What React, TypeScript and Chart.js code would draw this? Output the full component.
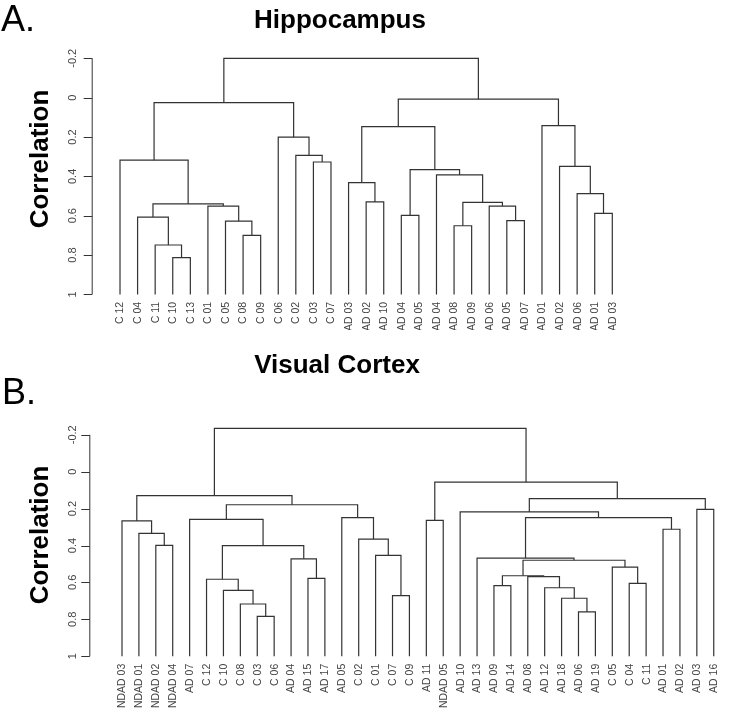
import React, { useEffect, useRef } from "react";
import { Chart, registerables } from "chart.js";

Chart.register(...registerables);

// ---------- Data ----------
// Leaf order (left to right) for each dendrogram
const hippoLeaves = [
  "C 12", "C 04", "C 11", "C 10", "C 13", "C 01", "C 05", "C 08", "C 09",
  "C 06", "C 02", "C 03", "C 07", "AD 03", "AD 02", "AD 10", "NDAD 04",
  "NDAD 05", "AD 04", "AD 08", "AD 09", "AD 06", "AD 05", "AD 07", "AD 01",
  "NDAD 02", "NDAD 06", "NDAD 01", "NDAD 03",
];
// merges: negative = leaf -(index+1), positive = earlier merge number (1-based)
const hippoMerges: number[][] = [
  [-4, -5], [-3, 1], [-2, 2], [-8, -9], [-7, 4], [-6, 5], [3, 6], [-1, 7],
  [-12, -13], [-11, 9], [-10, 10], [8, 11], [-15, -16], [-14, 13], [-17, -18],
  [-20, -21], [-23, -24], [-22, 17], [16, 18], [-19, 19], [15, 20], [14, 21],
  [-28, -29], [-27, 23], [-26, 24], [-25, 25], [22, 26], [12, 27],
];
const hippoHeights = [
  0.813, 0.749, 0.607, 0.7, 0.628, 0.551, 0.54, 0.318,
  0.327, 0.293, 0.201, 0.025, 0.53, 0.432, 0.598,
  0.651, 0.625, 0.551, 0.532, 0.393, 0.366, 0.147,
  0.588, 0.488, 0.349, 0.142, 0.008, -0.2,
];

const visualLeaves = [
  "NDAD 03", "NDAD 01", "NDAD 02", "NDAD 04", "AD 07", "C 12", "C 10", "C 08",
  "C 03", "C 06", "AD 04", "AD 15", "AD 17", "AD 05", "C 02", "C 01", "C 07",
  "C 09", "AD 11", "NDAD 05", "AD 10", "AD 13", "AD 09", "AD 14", "AD 08",
  "AD 12", "AD 18", "AD 06", "AD 19", "C 05", "C 04", "C 11", "AD 01", "AD 02",
  "AD 03", "AD 16",
];
const visualMerges: number[][] = [
  [-3, -4], [-2, 1], [-1, 2], [-9, -10], [-8, 4], [-7, 5], [-6, 6], [-12, -13],
  [-11, 8], [7, 9], [-5, 10], [-17, -18], [-16, 12], [-15, 13], [-14, 14],
  [11, 15], [3, 16], [-19, -20], [-28, -29], [-27, 19], [-26, 20], [-25, 21],
  [-23, -24], [23, 22], [-31, -32], [-30, 25], [24, 26], [-22, 27], [-33, -34],
  [28, 29], [-21, 30], [-35, -36], [31, 32], [18, 33], [17, 34],
];
const visualHeights = [
  0.399, 0.334, 0.267, 0.784, 0.717, 0.643, 0.583, 0.578,
  0.472, 0.401, 0.258, 0.672, 0.453, 0.365, 0.249,
  0.179, 0.13, 0.264, 0.76, 0.686, 0.629, 0.569,
  0.618, 0.564, 0.605, 0.517, 0.48, 0.468, 0.312,
  0.249, 0.218, 0.204, 0.146, 0.057, -0.235,
];

const yTickValues = [-0.2, 0, 0.2, 0.4, 0.6, 0.8, 1];
const yTickLabels = ["-0.2", "0", "0.2", "0.4", "0.6", "0.8", "1"];
const leafBase = 1;

// ---------- Helpers ----------
type Pt = { x: number; y: number };

function buildSegments(merges: number[][], heights: number[]): Pt[][] {
  const centers: number[] = [];
  const segs: Pt[][] = [];
  merges.forEach((m, k) => {
    const pos = (r: number): Pt =>
      r < 0 ? { x: -r - 1, y: leafBase } : { x: centers[r - 1], y: heights[r - 1] };
    const a = pos(m[0]);
    const b = pos(m[1]);
    const h = heights[k];
    centers.push((a.x + b.x) / 2);
    segs.push([
      { x: a.x, y: a.y },
      { x: a.x, y: h },
      { x: b.x, y: h },
      { x: b.x, y: b.y },
    ]);
  });
  return segs;
}

type PanelCfg = {
  letter: string;
  title: string;
  leaves: string[];
  merges: number[][];
  heights: number[];
  top: number;
  height: number;
  padding: { left: number; right: number; top: number; bottom: number };
  xMin: number;
  xMax: number;
  yMin: number;
  letterX: number;
  letterY: number;
  titleX: number;
  titleY: number;
  ylabX: number;
  ylabY: number;
  tickLabelX: number;
};

const LINE = "#333333";
const TXT = "#444444";
const FONT = "'Liberation Sans', Arial, Helvetica, sans-serif";

function Dendro({ cfg }: { cfg: PanelCfg }) {
  const ref = useRef<HTMLCanvasElement | null>(null);
  useEffect(() => {
    if (!ref.current) return;
    const segs = buildSegments(cfg.merges, cfg.heights);
    const decor = {
      id: "decor",
      afterDraw(chart: any) {
        const ctx = chart.ctx as CanvasRenderingContext2D;
        const xs = chart.scales.x;
        const ys = chart.scales.y;
        const left = chart.chartArea.left;
        ctx.save();
        // y axis line
        ctx.strokeStyle = LINE;
        ctx.lineWidth = 1;
        ctx.beginPath();
        const yT = ys.getPixelForValue(yTickValues[0]);
        const yB = ys.getPixelForValue(yTickValues[yTickValues.length - 1]);
        ctx.moveTo(left + 0.5, yT);
        ctx.lineTo(left + 0.5, yB);
        yTickValues.forEach((v) => {
          const p = Math.round(ys.getPixelForValue(v)) + 0.5;
          ctx.moveTo(left + 0.5, p);
          ctx.lineTo(left - 8, p);
        });
        ctx.stroke();
        // tick labels (rotated)
        ctx.fillStyle = TXT;
        ctx.font = `11px ${FONT}`;
        ctx.textAlign = "center";
        ctx.textBaseline = "alphabetic";
        yTickValues.forEach((v, i) => {
          const p = ys.getPixelForValue(v);
          ctx.save();
          ctx.translate(cfg.tickLabelX, p);
          ctx.rotate(-Math.PI / 2);
          ctx.fillText(yTickLabels[i], 0, 0);
          ctx.restore();
        });
        // leaf labels
        ctx.font = `10.5px ${FONT}`;
        ctx.textAlign = "right";
        ctx.textBaseline = "middle";
        const base = ys.getPixelForValue(leafBase) + 7.5;
        cfg.leaves.forEach((lab, i) => {
          const px = xs.getPixelForValue(i);
          ctx.save();
          ctx.translate(px + 0.5, base);
          ctx.rotate(-Math.PI / 2);
          ctx.fillText(lab, 0, 0);
          ctx.restore();
        });
        // y axis title
        ctx.fillStyle = "#000";
        ctx.font = `bold 26px ${FONT}`;
        ctx.textAlign = "center";
        ctx.textBaseline = "alphabetic";
        ctx.save();
        ctx.translate(cfg.ylabX, cfg.ylabY);
        ctx.rotate(-Math.PI / 2);
        ctx.fillText("Correlation", 0, 0);
        ctx.restore();
        // main title
        ctx.font = `bold 26px ${FONT}`;
        ctx.fillText(cfg.title, cfg.titleX, cfg.titleY);
        // panel letter
        ctx.font = `36px ${FONT}`;
        ctx.textAlign = "left";
        ctx.fillText(cfg.letter, cfg.letterX, cfg.letterY);
        ctx.restore();
      },
    };
    const chart = new Chart(ref.current, {
      type: "scatter",
      data: {
        datasets: segs.map((s) => ({
          data: s,
          showLine: true,
          borderColor: LINE,
          borderWidth: 1.2,
          pointRadius: 0,
          pointHoverRadius: 0,
          fill: false,
          tension: 0,
          clip: false as any,
        })),
      },
      options: {
        animation: false,
        responsive: false,
        devicePixelRatio: 1,
        events: [],
        layout: { padding: cfg.padding },
        plugins: { legend: { display: false }, tooltip: { enabled: false }, title: { display: false } },
        scales: {
          x: { type: "linear", min: cfg.xMin, max: cfg.xMax, display: false },
          y: { type: "linear", min: cfg.yMin, max: 1, reverse: true, display: false },
        },
      },
      plugins: [decor],
    } as any);
    return () => chart.destroy();
  }, [cfg]);
  return (
    <canvas
      ref={ref}
      width={729}
      height={cfg.height}
      style={{ position: "absolute", left: 0, top: cfg.top, width: 729, height: cfg.height, display: "block" }}
    />
  );
}

const panelA: PanelCfg = {
  letter: "A.",
  title: "Hippocampus",
  leaves: hippoLeaves,
  merges: hippoMerges,
  heights: hippoHeights,
  top: 0,
  height: 330,
  padding: { left: 91.7, right: 20, top: 58.3, bottom: 35.6 },
  xMin: -1.61,
  xMax: 33.5,
  yMin: -0.2,
  letterX: 1,
  letterY: 30.5,
  titleX: 340,
  titleY: 28,
  ylabX: 48,
  ylabY: 159,
  tickLabelX: 75.5,
};

const panelB: PanelCfg = {
  letter: "B.",
  title: "Visual Cortex",
  leaves: visualLeaves,
  merges: visualMerges,
  heights: visualHeights,
  top: 330,
  height: 384,
  padding: { left: 89.3, right: 6.8, top: 86.35, bottom: 57.8 },
  xMin: -1.934,
  xMax: 35.5,
  yMin: -0.3,
  letterX: 2,
  letterY: 74,
  titleX: 337,
  titleY: 43.3,
  ylabX: 48,
  ylabY: 205,
  tickLabelX: 75.5,
};

export default function App() {
  return (
    <div style={{ position: "absolute", left: 0, top: 0, width: 729, height: 714, background: "#fff", overflow: "hidden" }}>
      <Dendro cfg={panelA} />
      <Dendro cfg={panelB} />
    </div>
  );
}
